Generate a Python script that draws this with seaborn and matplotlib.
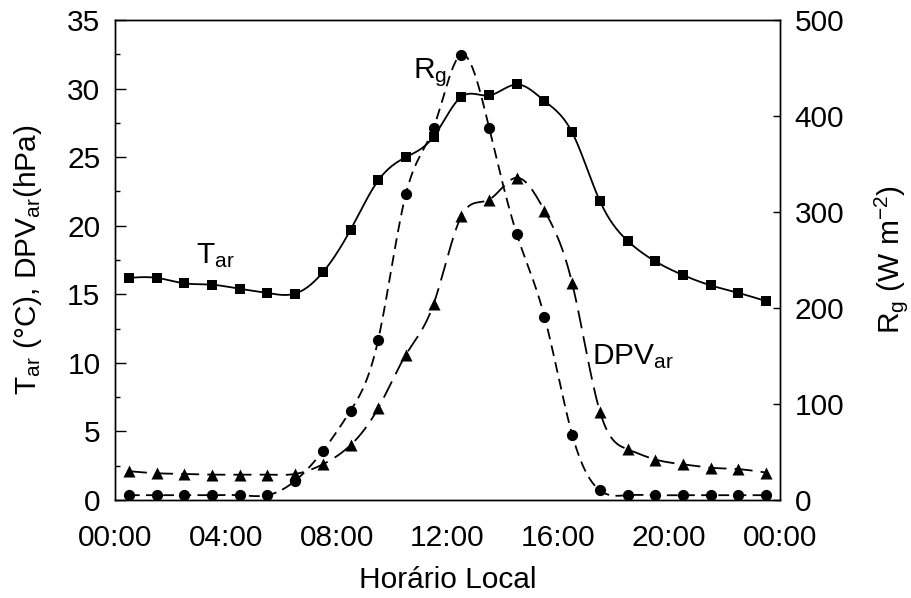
import numpy as np
import pandas as pd
import matplotlib
matplotlib.use("Agg")
import matplotlib.pyplot as plt
from matplotlib.ticker import MultipleLocator, FixedLocator
import seaborn as sns

# ---- data ----
hours = [0.5, 1.5, 2.5, 3.5, 4.5, 5.5, 6.5, 7.5, 8.5, 9.5, 10.5, 11.5,
         12.5, 13.5, 14.5, 15.5, 16.5, 17.5, 18.5, 19.5, 20.5, 21.5, 22.5, 23.5]
t_ar = [16.2, 16.2, 15.8, 15.7, 15.4, 15.1, 15.05, 16.6, 19.7, 23.3, 25.0, 26.5,
        29.4, 29.5, 30.3, 29.1, 26.8, 21.8, 18.9, 17.4, 16.4, 15.65, 15.1, 14.5]
dpv_ar = [2.1, 1.95, 1.9, 1.85, 1.85, 1.85, 1.9, 2.6, 4.0, 6.7, 10.6, 14.3,
          20.7, 21.9, 23.5, 21.1, 15.8, 6.45, 3.7, 2.95, 2.6, 2.35, 2.25, 2.0]
r_g = [5, 5, 5, 5, 5, 5, 20, 51, 93, 167, 319, 388,
       464, 388, 277, 191, 68, 10, 5, 5, 5, 5, 5, 5]
xtick_hours = [0, 4, 8, 12, 16, 20, 24]
xtick_labels = ["00:00", "04:00", "08:00", "12:00", "16:00", "20:00", "00:00"]


def natural_spline(x, y, n=600):
    """Smooth drawing path through the points (natural cubic spline)."""
    x = np.asarray(x, float)
    y = np.asarray(y, float)
    m = len(x)
    h = np.diff(x)
    A = np.zeros((m, m))
    b = np.zeros(m)
    A[0, 0] = A[-1, -1] = 1.0
    for i in range(1, m - 1):
        A[i, i - 1] = h[i - 1]
        A[i, i] = 2 * (h[i - 1] + h[i])
        A[i, i + 1] = h[i]
        b[i] = 3 * ((y[i + 1] - y[i]) / h[i] - (y[i] - y[i - 1]) / h[i - 1])
    c = np.linalg.solve(A, b)
    xs = np.linspace(x[0], x[-1], n)
    idx = np.clip(np.searchsorted(x, xs) - 1, 0, m - 2)
    dx = xs - x[idx]
    bb = (y[idx + 1] - y[idx]) / h[idx] - h[idx] * (2 * c[idx] + c[idx + 1]) / 3
    dd = (c[idx + 1] - c[idx]) / (3 * h[idx])
    ys = y[idx] + bb * dx + c[idx] * dx ** 2 + dd * dx ** 3
    return xs, ys


sns.set_style("white")
plt.rcParams["font.family"] = ["Liberation Sans", "DejaVu Sans"]
plt.rcParams["mathtext.fontset"] = "custom"
plt.rcParams["mathtext.rm"] = "Liberation Sans"
plt.rcParams["mathtext.it"] = "Liberation Sans:italic"
plt.rcParams["mathtext.default"] = "regular"
plt.rcParams["axes.linewidth"] = 1.0
plt.rcParams["axes.edgecolor"] = "black"
plt.rcParams["text.color"] = "black"
plt.rcParams["axes.labelcolor"] = "black"
plt.rcParams["xtick.color"] = "black"
plt.rcParams["ytick.color"] = "black"

FS = 21.5
fig = plt.figure(figsize=(9.12, 5.98), dpi=100)
ax = fig.add_axes([115 / 912, 1 - 500 / 598, 665 / 912, 480 / 598])
ax2 = ax.twinx()

df = pd.DataFrame({"hora": hours, "T": t_ar, "DPV": dpv_ar, "Rg": r_g})

# T_ar
xs, ys = natural_spline(hours, t_ar)
sns.lineplot(x=xs, y=ys, ax=ax, color="black", lw=1.3, sort=False, estimator=None)
sns.scatterplot(data=df, x="hora", y="T", ax=ax, marker="s", s=60, color="black",
                edgecolor="black", linewidth=0, zorder=5)
# DPV_ar
xs, ys = natural_spline(hours, dpv_ar)
ax.plot(xs, ys, color="black", lw=1.3, dashes=(10, 4.5))
sns.scatterplot(data=df, x="hora", y="DPV", ax=ax, marker="^", s=75, color="black",
                edgecolor="black", linewidth=0, zorder=5)
# R_g
xs, ys = natural_spline(hours, r_g)
ax2.plot(xs, ys, color="black", lw=1.3, dashes=(6, 3.5))
sns.scatterplot(data=df, x="hora", y="Rg", ax=ax2, marker="o", s=65, color="black",
                edgecolor="black", linewidth=0, zorder=5)

ax.set_xlim(0, 24)
ax.set_ylim(0, 35)
ax2.set_ylim(0, 500)

ax.xaxis.set_major_locator(FixedLocator(xtick_hours))
ax.set_xticklabels(xtick_labels)
ax.xaxis.set_minor_locator(MultipleLocator(1))
ax.yaxis.set_major_locator(MultipleLocator(5))
ax.yaxis.set_minor_locator(MultipleLocator(2.5))
ax2.yaxis.set_major_locator(MultipleLocator(100))

ax.tick_params(axis="x", which="major", direction="in", length=8, width=1.0,
               labelsize=FS, pad=17, top=False, colors="black")
ax.tick_params(axis="x", which="minor", direction="in", length=4, width=1.0, top=False)
ax.tick_params(axis="y", which="major", direction="in", length=8, width=1.0,
               labelsize=FS, pad=10.5, right=False)
ax.tick_params(axis="y", which="minor", direction="in", length=3.6, width=1.0, right=False)
ax2.tick_params(axis="y", which="major", direction="in", length=5, width=1.0,
                labelsize=FS, pad=10.5)
ax2.tick_params(axis="y", which="minor", length=0)

for a in (ax, ax2):
    for sp in a.spines.values():
        sp.set_visible(True)
        sp.set_color("black")
        sp.set_linewidth(1.0)

ax.set_xlabel("Horário Local", fontsize=FS)
ax.xaxis.set_label_coords(0.5, -(594 - 500) / 480)
ax.xaxis.label.set_va("bottom")
ax.set_ylabel(r"T$_{ar}$ (°C), DPV$_{ar}$(hPa)", fontsize=FS)
ax.yaxis.set_label_coords((44 - 115) / 665, 0.5)
ax2.set_ylabel(r"R$_{g}$ (W m$^{-2}$)", fontsize=FS)
ax2.yaxis.set_label_coords((872 - 115) / 665, 0.5)

ax.text(2.92, 17.28, r"T$_{ar}$", fontsize=FS, ha="left", va="baseline")
ax.text(10.75, 30.77, r"R$_{g}$", fontsize=FS, ha="left", va="baseline")
ax.text(17.21, 9.92, r"DPV$_{ar}$", fontsize=FS, ha="left", va="baseline")

fig.savefig("out.png", dpi=100)
